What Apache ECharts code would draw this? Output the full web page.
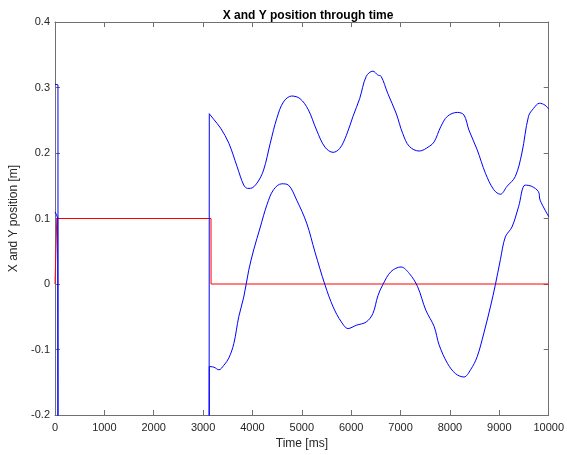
<!DOCTYPE html>
<html>
<head>
<meta charset="utf-8">
<script src="https://cdn.jsdelivr.net/npm/echarts@6/dist/echarts.min.js"></script>
<style>html,body{margin:0;padding:0;background:#fff}#c{width:567px;height:455px}</style>
</head>
<body>
<div id="c"></div>
<script>
// Ticks
const xTicks = [0,1000,2000,3000,4000,5000,6000,7000,8000,9000,10000];
const yTicks = [-0.2,-0.1,0,0.1,0.2,0.3,0.4];

// X position: start segment (with drop off-chart, -0.5 = below axis) and jump back
const xStartTime = [0,30,60,62,3120,3125];
const xStart     = [0.305,0.306,0.304,-0.5,-0.5,0.26];
// X position curve (upper blue)
const xPosTime = [3125,3219,3354,3521,3689,3823,3900,3957,4091,4225,4360,4493,4628,4795,4963,5131,5298,5467,5634,5768,5902,6036,6171,6304,6439,6539,6606,6740,6908,7042,7177,7378,7579,7680,7813,7948,8149,8283,8384,8551,8719,8887,9021,9155,9322,9457,9591,9692,9813,9926,10000];
const xPos     = [0.26,0.251,0.238,0.215,0.179,0.151,0.146,0.146,0.154,0.174,0.215,0.253,0.278,0.287,0.283,0.266,0.235,0.209,0.201,0.207,0.227,0.256,0.283,0.317,0.325,0.319,0.317,0.291,0.261,0.230,0.210,0.203,0.210,0.217,0.240,0.256,0.262,0.258,0.235,0.205,0.169,0.144,0.137,0.149,0.164,0.200,0.256,0.268,0.276,0.273,0.267];

// Y position: start segment and jump back
const yStartTime = [0,30,55,62,3120,3125];
const yStart     = [0.110,0.106,0.100,-0.5,-0.5,-0.126];
// Y position curve (lower blue)
const yPosTime = [3125,3219,3320,3421,3521,3622,3722,3823,3924,4024,4159,4293,4427,4594,4728,4896,5097,5265,5467,5634,5801,5936,6103,6304,6439,6540,6640,6807,7008,7177,7344,7511,7680,7780,7948,8115,8283,8417,8551,8686,8819,8920,9021,9122,9256,9390,9524,9658,9792,9826,10000];
const yPos     = [-0.126,-0.127,-0.131,-0.124,-0.113,-0.091,-0.050,-0.020,0.021,0.052,0.087,0.121,0.144,0.153,0.151,0.128,0.093,0.049,-0.001,-0.035,-0.058,-0.068,-0.063,-0.058,-0.045,-0.018,-0.001,0.019,0.026,0.016,-0.004,-0.040,-0.065,-0.093,-0.121,-0.137,-0.142,-0.131,-0.111,-0.075,-0.035,-0.001,0.037,0.072,0.087,0.118,0.151,0.149,0.141,0.128,0.103];

// Reference (red step)
const refTime = [0,35,36,3160,3161,10000];
const refPos  = [0,0,0.1,0.1,0,0];

const zip = (a,b) => a.map((t,i)=>[t,b[i]]);
const axisColor = '#707070';
const txt = '#262626';
const font = 'Liberation Sans, Arial, Helvetica, sans-serif';

const chart = echarts.init(document.getElementById('c'), null, {renderer:'canvas'});
const baseX = {type:'value',min:0,max:10000,interval:1000,splitLine:{show:false},
  axisLine:{show:true,onZero:false,lineStyle:{color:axisColor,width:1}},
  axisTick:{show:true,inside:true,length:5,lineStyle:{color:axisColor}}};
const baseY = {type:'value',min:-0.2,max:0.4,interval:0.1,splitLine:{show:false},
  axisLine:{show:true,onZero:false,lineStyle:{color:axisColor,width:1}},
  axisTick:{show:true,inside:true,length:5,lineStyle:{color:axisColor}}};
const blue = {color:'#0000ff',width:1};
chart.setOption({
  animation:false,
  backgroundColor:'#fff',
  title:{text:'X and Y position through time',left:303,textAlign:'center',top:5,
    textStyle:{fontFamily:font,fontSize:12,fontWeight:'bold',color:'#000'}},
  grid:{left:55,right:15,top:22,bottom:40,containLabel:false},
  xAxis:[
    Object.assign({},baseX,{position:'bottom',name:'Time [ms]',nameLocation:'middle',nameGap:22,
      nameTextStyle:{fontFamily:font,fontSize:12,color:txt},
      axisLabel:{fontFamily:font,fontSize:11,color:txt,margin:7,
        formatter:v=>xTicks.includes(v)?String(v):''}}),
    Object.assign({},baseX,{position:'top',axisLabel:{show:false}})
  ],
  yAxis:[
    Object.assign({},baseY,{position:'left',name:'X and Y position [m]',nameLocation:'middle',nameGap:29,
      nameTextStyle:{fontFamily:font,fontSize:12,color:txt},
      axisLabel:{fontFamily:font,fontSize:11,color:txt,margin:5,
        formatter:v=>{const r=Math.round(v*10)/10; return yTicks.includes(r)?String(r):'';}}}),
    Object.assign({},baseY,{position:'right',axisLabel:{show:false}})
  ],
  series:[
    {type:'line',name:'ref',data:zip(refTime,refPos),showSymbol:false,clip:true,
      lineStyle:{color:'#ff0000',width:1},itemStyle:{color:'#ff0000'}},
    {type:'line',name:'X start',data:zip(xStartTime,xStart),showSymbol:false,clip:true,
      lineStyle:blue,itemStyle:{color:'#0000ff'}},
    {type:'line',name:'Y start',data:zip(yStartTime,yStart),showSymbol:false,clip:true,
      lineStyle:blue,itemStyle:{color:'#0000ff'}},
    {type:'line',name:'X',data:zip(xPosTime,xPos),showSymbol:false,clip:true,smooth:0.35,
      lineStyle:blue,itemStyle:{color:'#0000ff'}},
    {type:'line',name:'Y',data:zip(yPosTime,yPos),showSymbol:false,clip:true,smooth:0.35,
      lineStyle:blue,itemStyle:{color:'#0000ff'}}
  ]
});
</script>
</body>
</html>
